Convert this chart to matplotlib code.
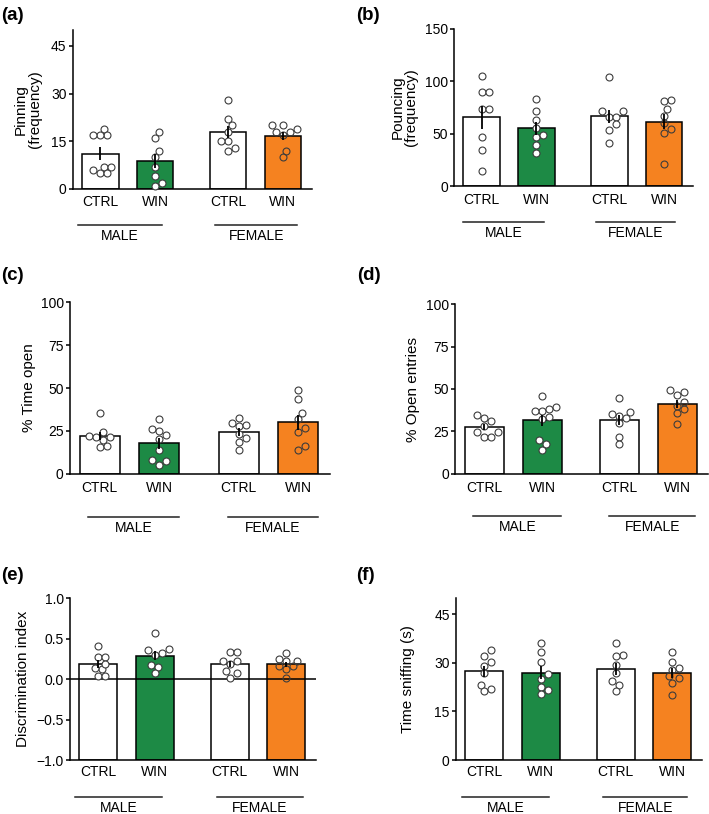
import numpy as np
import matplotlib
matplotlib.use("Agg")
import matplotlib.pyplot as plt
from matplotlib.transforms import offset_copy

plt.rcParams['font.family'] = ['Liberation Sans', 'DejaVu Sans']

# ---- data (one list per group) ----
groups = ['CTRL', 'WIN', 'CTRL', 'WIN']
sexes = ['MALE', 'FEMALE']

pinning = [[19, 17, 17, 17, 7, 6, 5, 5, 7],
           [18, 16, 12, 10, 7, 4, 2, 1],
           [28, 22, 20, 18, 15, 15, 12, 13],
           [19, 20, 20, 18, 17, 18, 12, 10]]

pouncing = [[104.7, 89.6, 89.6, 73.1, 73.1, 46.9, 34.5, 14.4],
            [83, 72.1, 62.9, 55.5, 46.9, 48.8, 39.6, 31.3],
            [103.7, 71.2, 71.2, 66.4, 66.4, 59, 53.9, 40.9],
            [81, 82, 73.1, 67, 60.6, 54.9, 51.1, 20.7]]

time_open = [[35.4, 22.2, 21.4, 21.4, 24.1, 19.5, 15.8, 16.1],
             [31.9, 26.3, 24.7, 22.8, 20.2, 14.0, 7.8, 7.6, 5.3],
             [29.8, 32.3, 27.8, 28.2, 23.3, 20.6, 18.5, 14.0],
             [48.6, 43.8, 35.4, 31.7, 26.8, 24.1, 14.0, 16.0]]

open_entries = [[33.1, 30.9, 34.8, 28.1, 24.8, 24.8, 21.9, 21.9],
                [46.1, 37.2, 39.6, 38.2, 37.2, 33.3, 32.5, 19.7, 17.7, 13.8],
                [44.9, 36.6, 34.1, 35.2, 33.1, 30.1, 21.9, 17.3],
                [49.4, 46.5, 48.0, 42.5, 38.0, 36.0, 40.0, 29.5]]

discrimination = [[0.41, 0.28, 0.28, 0.12, 0.19, 0.14, 0.04, 0.04],
                  [0.57, 0.36, 0.37, 0.30, 0.32, 0.17, 0.15, 0.08],
                  [0.33, 0.33, 0.22, 0.22, 0.19, 0.10, 0.07, 0.02],
                  [0.25, 0.32, 0.22, 0.23, 0.16, 0.16, 0.12, 0.02]]

sniffing = [[33.9, 32.2, 30.3, 29.0, 26.7, 23.3, 21.3, 21.9],
            [36.1, 33.3, 30.2, 26.4, 25.1, 22.5, 21.7, 20.3],
            [36.1, 32.4, 32.0, 29.2, 27.0, 24.4, 23.2, 21.3],
            [33.4, 30.2, 27.9, 28.5, 25.3, 25.9, 23.9, 20.0]]

# ---- styling / layout ----
W, H = 709, 814
bar_colors = ['white', '#1d8a45', 'white', '#f58220']
dot_faces = ['white', 'white', 'white', 'none']
xpos = np.array([0, 1, 2.33, 3.33])
xlim = (-0.5, 3.86)

panels = [
    # letter, data, ylabel, ylim, yticks, axes box (px: l, t, r, b), label x offset, x-gaps (tick, line, text), line spans, letter pos
    ('(a)', pinning, 'Pinning\n(frequency)', (0, 50), [0, 15, 30, 45],
     (72.7, 30, 312, 189), 45, (13, 36, 47), [(-0.41, 1.12), (2.1, 3.59)], (1, 15)),
    ('(b)', pouncing, 'Pouncing\n(frequency)', (0, 150), [0, 50, 100, 150],
     (454.3, 29, 693, 186), 50, (14, 36, 47), [(-0.34, 1.14), (2.09, 3.53)], (356, 15)),
    ('(c)', time_open, '% Time open', (0, 100), [0, 25, 50, 75, 100],
     (70, 302.3, 330, 473.7), 41, (15, 43, 54), [(-0.19, 1.33), (2.15, 3.66)], (1, 275)),
    ('(d)', open_entries, '% Open entries', (0, 100), [0, 25, 50, 75, 100],
     (455.3, 304.3, 708, 473.7), 42, (15, 42, 53), [(-0.19, 1.33), (2.16, 3.64)], (357, 275)),
    ('(e)', discrimination, 'Discrimination index', (-1, 1), [-1.0, -0.5, 0.0, 0.5, 1.0],
     (70, 598.3, 316, 760), 47, (13, 37, 48), [(-0.41, 1.13), (2.1, 3.63)], (1, 575)),
    ('(f)', sniffing, 'Time sniffing (s)', (0, 50), [0, 15, 30, 45],
     (456, 598, 702, 760), 48, (13, 37, 48), [(-0.39, 1.14), (2.11, 3.6)], (356, 575)),
]


def swarm(vals, ylim, h_px, unit_px, d=7.0):
    """simple beeswarm offsets (in x data units)"""
    yp = (np.asarray(vals, float) - ylim[0]) / (ylim[1] - ylim[0]) * h_px
    placed = []
    off = np.zeros(len(yp))
    for i in np.argsort(yp):
        for k in [0, 1, -1, 2, -2, 3, -3, 4, -4, 5, -5, 6, -6]:
            x = k * d / 2
            if all((x - px) ** 2 + (yp[i] - py) ** 2 >= (0.95 * d) ** 2 for px, py in placed):
                break
        placed.append((x, yp[i]))
        off[i] = x
    return off / unit_px


fig = plt.figure(figsize=(W / 100, H / 100), dpi=100)

for letter, data, ylabel, ylim, yticks, box, lab_off, gaps, spans, lpos in panels:
    l, t, r, b = box
    ax = fig.add_axes([l / W, 1 - b / H, (r - l) / W, (b - t) / H])
    w_px, h_px = r - l, b - t
    unit_px = w_px / (xlim[1] - xlim[0])

    means = np.array([np.mean(g) for g in data])
    sems = np.array([np.std(g, ddof=1) / np.sqrt(len(g)) for g in data])

    ax.bar(xpos, means - ylim[0], bottom=ylim[0], width=0.67, color=bar_colors,
           edgecolor='black', linewidth=1.1, zorder=2)
    if ylim[0] < 0:
        ax.axhline(0, color='black', lw=1.1, zorder=3)
    for i, g in enumerate(data):
        off = swarm(g, ylim, h_px, unit_px)
        ax.plot(xpos[i] + off, g, 'o', ms=5, mfc=dot_faces[i], mec='#3c3c3c',
                mew=0.8, zorder=4, clip_on=False)
    ax.errorbar(xpos, means, yerr=sems, fmt='none', ecolor='black',
                elinewidth=1.3, capsize=0, zorder=5)

    ax.set_xlim(*xlim)
    ax.set_ylim(*ylim)
    ax.set_yticks(yticks)
    ax.set_xticks(xpos)
    ax.set_xticklabels(groups)
    for s in ['top', 'right']:
        ax.spines[s].set_visible(False)
    for s in ['left', 'bottom']:
        ax.spines[s].set_linewidth(1.1)
    ax.tick_params(axis='y', direction='out', length=3, width=1.1, labelsize=10, pad=1.5)
    ax.tick_params(axis='x', length=0, labelsize=10, pad=(gaps[0] - 7.5) * 0.72)

    ax.set_ylabel(ylabel, fontsize=11, va='center', linespacing=1.0)
    ax.yaxis.set_label_coords(-lab_off / w_px, 0.5)

    # sex group lines under the tick labels
    tr_line = offset_copy(ax.get_xaxis_transform(), fig=fig, y=-gaps[1], units='dots')
    tr_text = offset_copy(ax.get_xaxis_transform(), fig=fig, y=-gaps[2], units='dots')
    for (x0, x1), sex in zip(spans, sexes):
        ax.plot([x0, x1], [0, 0], color='#222222', lw=1.1, transform=tr_line, clip_on=False)
        ax.text((x0 + x1) / 2, 0, sex, ha='center', va='center', fontsize=10,
                transform=tr_text)

    fig.text(lpos[0] / W, 1 - lpos[1] / H, letter, fontsize=13.5, fontweight='bold',
             ha='left', va='center')

fig.savefig('out.png', dpi=100)
